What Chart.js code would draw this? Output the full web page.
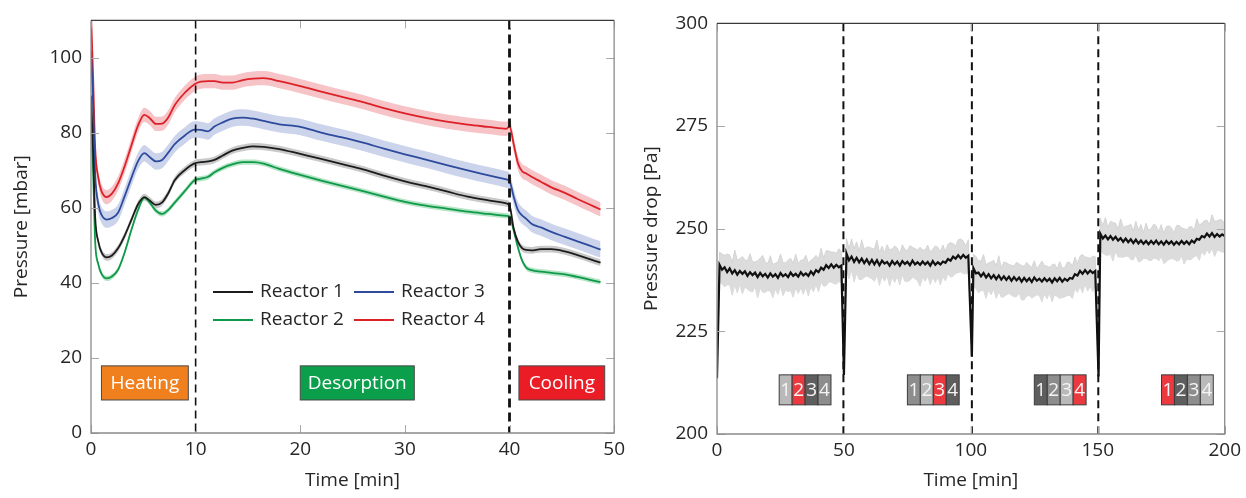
<!DOCTYPE html>
<html><head><meta charset="utf-8">
<script src="https://cdn.jsdelivr.net/npm/chart.js@4.4.1/dist/chart.umd.min.js"></script>
<style>
html,body{margin:0;padding:0;background:#fff;width:1246px;height:498px;overflow:hidden}
#c1{position:absolute;left:0;top:0}
#c2{position:absolute;left:630px;top:0}
</style></head><body>
<canvas id="c1" width="630" height="498"></canvas>
<canvas id="c2" width="616" height="498"></canvas>
<script>
// ---------------- LEFT CHART DATA ----------------
const timeL = [0,0.2,0.4,0.7,1.0,1.5,2.0,2.6,3.2,3.9,4.5,5.1,5.6,6.2,6.8,7.4,8.0,9.0,9.9,10.5,11.2,11.8,12.6,13.5,14.5,15.5,16.5,18,20,22,24,26,28,30,32,34,36,38,39.7,40.0,40.4,40.8,41.2,41.6,42.1,43,44,45.3,46.5,47.6,48.7];
const reactor1 = [90,75,57.5,51,48.2,46.8,47.3,49.3,52.5,57.1,61,62.9,62,60.8,61.5,64,67.4,70.2,71.9,72.2,72.4,72.8,74,75.3,76,76.4,76.3,75.7,74.4,73.1,71.7,70.3,68.6,67.1,65.8,64.4,63,62,61.2,60.7,54.5,51,49.3,48.8,48.7,49,49,48.4,47.4,46.4,45.4];
const reactor2 = [86,70,51,45,42.5,41.2,41.7,43.6,48,54.5,59.5,62.7,61.5,59.3,58.4,59.5,61.4,64.6,67.4,67.8,68.3,69.5,70.7,71.6,72.2,72.2,71.8,70.4,68.8,67.3,65.9,64.5,63,61.6,60.6,59.8,59,58.4,57.9,57.7,54,49.5,46,44.1,43.4,43,42.7,42.3,41.6,40.9,40.2];
const reactor3 = [102,88,69,61,58.2,56.9,57.3,58.8,63,68.3,72.5,74.6,73.6,72.4,72.8,74.8,77,79.4,80.9,80.8,80.4,81.7,82.8,83.8,84.1,83.8,83.2,82.3,81.6,80.1,78.8,77.4,75.8,74.3,72.9,71.4,70,68.7,67.6,67.2,63,59.5,58,57.1,55.8,54.8,53.6,52.3,51.1,50,48.9];
const reactor4 = [112,95,76,68,64.5,62.9,63.8,66.6,71,77,82,84.8,84,82.4,82.5,84.2,87.4,90.8,93,93.7,93.8,93.8,93.4,93.4,94.1,94.5,94.6,93.8,92.5,91,89.6,88.2,86.6,85.2,84,83,82.2,81.6,81.1,81.8,77,72,69.8,69.2,68.3,67,65.5,64,62.4,61,59.6];
const reactorNames = ['Reactor 1','Reactor 2','Reactor 3','Reactor 4'];
const reactorSpread = [0.9,0.7,2.2,1.9];   // half width of shaded band [mbar]
const phaseNames = ['Heating','Desorption','Cooling'];
const phaseStart = [1.0,20.0,40.9];
const phaseEnd = [9.3,30.9,49.1];
const phaseLow = 8.8, phaseHigh = 17.9;
const phaseLines = [10,40];
const leftXTicks = [0,10,20,30,40,50];
const leftYTicks = [0,20,40,60,80,100];

// ---------------- RIGHT CHART DATA ----------------
const timeR = [
0,1,2,3,4,5,6,7,8,9,
10,11,12,13,14,15,16,17,18,19,
20,21,22,23,24,25,26,27,28,29,
30,31,32,33,34,35,36,37,38,39,
40,41,42,43,44,45,46,47,48,49,
50,51,52,53,54,55,56,57,58,59,
60,61,62,63,64,65,66,67,68,69,
70,71,72,73,74,75,76,77,78,79,
80,81,82,83,84,85,86,87,88,89,
90,91,92,93,94,95,96,97,98,99,
100.4,101,102,103,104,105,106,107,108,109,
110,111,112,113,114,115,116,117,118,119,
120,121,122,123,124,125,126,127,128,129,
130,131,132,133,134,135,136,137,138,139,
140,141,142,143,144,145,146,147,148,149,
150.3,151,152,153,154,155,156,157,158,159,
160,161,162,163,164,165,166,167,168,169,
170,171,172,173,174,175,176,177,178,179,
180,181,182,183,184,185,186,187,188,189,
190,191,192,193,194,195,196,197,198,199,
200];
const dropMean = [
213.6,241.2,240.0,240.6,239.4,240.3,239.1,239.9,238.8,239.7,
239.0,239.6,238.5,239.4,238.7,239.3,238.2,239.2,238.4,239.0,
238.1,239.1,238.3,238.9,238.0,239.2,238.4,238.9,238.2,239.3,
238.5,239.0,238.3,239.4,238.6,239.1,238.5,239.6,238.8,239.9,
239.4,240.5,240.0,241.1,240.4,241.3,240.5,241.2,240.6,241.0,
214.4,244.0,242.3,243.2,241.9,242.9,241.8,242.7,241.6,242.5,
241.4,242.4,241.3,242.3,241.1,242.2,241.5,241.9,241.0,242.1,
241.3,242.0,241.0,242.1,241.4,241.9,241.1,242.2,241.3,241.8,
241.2,242.0,241.3,241.9,241.0,242.1,241.2,241.8,241.3,242.0,
241.7,242.6,242.2,243.2,242.7,243.5,242.8,243.6,242.9,243.4,
218.8,240.4,239.1,239.3,238.4,239.2,238.1,238.9,237.9,238.7,
237.7,238.6,237.6,238.4,237.5,238.3,237.3,238.2,237.4,238.1,
237.1,238.0,237.2,237.9,237.0,238.1,237.3,237.8,237.1,237.9,
237.2,237.8,236.9,237.9,237.2,238.0,237.1,237.8,237.3,238.0,
237.8,238.9,238.6,239.7,239.0,239.9,239.1,239.8,239.2,239.7,
214.0,248.8,247.6,248.3,247.4,248.2,247.3,248.0,247.1,247.7,
246.8,247.6,246.7,247.4,246.5,247.3,246.4,247.1,246.3,247.0,
246.2,247.0,246.3,247.1,246.2,246.9,246.1,247.0,246.3,246.9,
246.1,246.8,246.2,247.0,246.3,246.9,246.2,247.1,246.6,247.5,
247.3,248.2,247.9,248.8,248.1,248.9,248.0,248.7,248.1,248.6,
248.2];
const dropSpreadUp = [
0,3.1,3.8,2.9,4.4,3.3,2.7,4.9,3.5,3.0,
4.2,2.8,3.7,4.5,3.2,2.6,4.0,3.6,5.1,2.9,
3.4,4.3,3.0,2.7,3.9,4.6,3.3,2.8,4.1,3.5,
3.0,4.8,3.2,2.9,3.8,4.4,3.1,2.7,4.0,3.6,
3.3,4.7,2.9,3.5,4.2,3.0,3.8,2.8,4.5,3.4,
0,3.6,2.9,4.3,3.2,3.9,2.7,4.6,3.4,3.0,
4.1,2.8,3.7,4.9,3.1,3.5,2.6,4.2,3.8,3.0,
4.5,3.3,2.9,4.0,3.6,2.7,4.8,3.2,3.9,3.0,
4.3,2.8,3.5,4.1,3.3,2.9,4.6,3.7,3.1,4.0,
2.8,3.6,4.4,3.2,3.0,3.8,4.7,3.4,2.9,3.9,
0,3.4,4.1,2.9,3.7,4.5,3.1,2.8,4.0,3.6,
3.2,4.8,2.9,3.5,4.2,3.0,3.8,2.7,4.4,3.3,
3.9,2.8,4.6,3.2,3.6,4.1,2.9,3.4,5.0,3.1,
3.7,2.8,4.3,3.5,3.0,4.0,3.3,2.7,4.5,3.8,
3.1,4.2,2.9,3.6,4.7,3.2,3.9,3.0,4.1,3.5,
0,3.8,3.1,4.4,2.9,3.6,4.2,3.3,2.8,4.7,
3.5,3.0,4.0,3.7,2.9,4.5,3.2,3.9,2.7,4.3,
3.4,3.0,4.8,3.6,3.1,4.1,2.8,3.5,4.4,3.3,
2.9,3.9,4.6,3.2,3.7,2.8,4.2,3.4,3.0,4.9,
3.6,3.1,4.0,3.3,2.9,4.5,3.8,3.2,4.1,3.5,
3.0];
const dropSpreadDown = [
0,4.2,3.5,4.8,3.1,4.0,5.3,3.6,4.4,3.2,
4.9,3.8,3.3,4.6,4.1,3.4,5.0,3.7,3.9,4.5,
3.2,4.3,5.1,3.6,4.0,3.3,4.7,3.9,3.5,4.4,
5.2,3.4,4.1,3.8,4.6,3.3,4.9,3.7,4.2,3.5,
4.8,3.6,4.0,5.0,3.4,4.3,3.9,4.7,3.5,4.1,
0,3.9,4.5,3.4,4.8,3.7,4.2,5.1,3.5,4.0,
3.3,4.6,4.1,3.6,4.9,3.8,4.3,3.4,5.0,3.9,
4.4,3.6,4.7,3.3,4.2,4.8,3.7,4.0,3.5,4.5,
5.2,3.8,4.1,3.4,4.6,3.9,4.3,3.6,5.0,3.7,
4.4,3.5,4.0,4.8,3.6,4.2,3.3,4.5,3.9,4.1,
0,4.4,3.7,4.9,3.5,4.2,5.1,3.8,4.0,3.4,
4.7,3.9,4.3,5.0,3.6,4.1,3.5,4.8,4.0,3.7,
4.5,5.3,3.6,4.2,3.9,4.6,3.4,4.1,4.9,3.8,
4.3,3.5,4.7,4.0,3.7,5.0,3.9,4.4,3.6,4.2,
4.8,3.5,4.1,3.8,4.6,3.4,4.3,3.9,4.5,3.7,
0,4.1,3.6,4.7,3.9,4.4,5.2,3.5,4.0,4.6,
3.8,4.3,3.4,4.9,4.1,3.7,4.5,5.0,3.6,4.2,
3.9,4.8,3.5,4.4,4.0,3.7,4.6,5.1,3.8,4.2,
3.5,4.7,4.0,3.6,4.9,4.3,3.8,4.5,3.4,4.1,
5.0,3.7,4.4,3.9,4.2,3.6,4.8,4.0,3.5,4.3,
3.9];
const switchLines = [49.8,100.4,150.2];
const boxStart = [24.5,75.0,125.0,175.1];
const boxWidth = 20.4;
const boxLow = 207.1, boxHigh = 214.4;
const boxCells = [
  ['light','red','dark','mid'],
  ['mid','light','red','dark'],
  ['dark','mid','light','red'],
  ['red','dark','mid','light']
];
const rightXTicks = [0,50,100,150,200];
const rightYTicks = [200,225,250,275,300];

// ---------------- STYLE ----------------
const FONT = '"Open Sans", "DejaVu Sans", sans-serif';
const FS = 19;
const TEXT = '#262626';
const lineColors = ['#1c1c1c','#0f9a49','#2d4a9c','#dc2128'];
const bandColors = ['#c9c9c9','#b6e4c6','#ccd4ec','#f6c3c7'];
const phaseColors = ['#f07f1e','#0b9f4c','#ea1c26'];
const cellColors = {light:'#b9b9b9', mid:'#8d8d8d', dark:'#5e5e5e', red:'#ea3a40'};

Chart.defaults.font.family = FONT;
Chart.defaults.animation = false;

function drawFrame(chart, xt, yt){
  const {ctx, chartArea:a, scales:{x,y}} = chart;
  ctx.save();
  ctx.strokeStyle = '#a8a8a8'; ctx.lineWidth = 1;
  const L = 8;
  ctx.beginPath();
  xt.forEach(v=>{const p=Math.round(x.getPixelForValue(v))+0.5; ctx.moveTo(p,a.bottom); ctx.lineTo(p,a.bottom-L); ctx.moveTo(p,a.top); ctx.lineTo(p,a.top+L);});
  yt.forEach(v=>{const p=Math.round(y.getPixelForValue(v))+0.5; ctx.moveTo(a.left,p); ctx.lineTo(a.left+L,p); ctx.moveTo(a.right,p); ctx.lineTo(a.right-L,p);});
  ctx.stroke();
  ctx.lineWidth = 1.3;
  ctx.strokeStyle = '#8a8a8a';
  ctx.beginPath();
  ctx.moveTo(a.left,a.top); ctx.lineTo(a.left,a.bottom); ctx.lineTo(a.right,a.bottom); ctx.lineTo(a.right,a.top);
  ctx.stroke();
  ctx.strokeStyle = '#3a3a3a';
  ctx.beginPath(); ctx.moveTo(a.left,a.top); ctx.lineTo(a.right,a.top); ctx.stroke();
  ctx.restore();
}

function dashLine(chart, xv, w, dash){
  const {ctx, chartArea:a, scales:{x}} = chart;
  const p = x.getPixelForValue(xv);
  ctx.save();
  ctx.strokeStyle = '#111'; ctx.lineWidth = w; ctx.setLineDash(dash);
  ctx.beginPath(); ctx.moveTo(p,a.top); ctx.lineTo(p,a.bottom); ctx.stroke();
  ctx.restore();
}

// ---------------- LEFT CHART ----------------
const reactorSeries = [reactor1, reactor2, reactor3, reactor4];
const leftDatasets = [];
reactorSeries.forEach((vals,k)=>{
  leftDatasets.push({label:reactorNames[k], data: timeL.map((t,i)=>({x:t,y:vals[i]})), borderColor: lineColors[k], borderWidth:1.8, pointRadius:0, cubicInterpolationMode:'monotone', fill:false, order:0});
});
reactorSeries.forEach((vals,k)=>{
  leftDatasets.push({label:'hi'+k, data: timeL.map((t,i)=>({x:t,y:vals[i]+reactorSpread[k]})), borderWidth:0, pointRadius:0, cubicInterpolationMode:'monotone', backgroundColor: bandColors[k], fill:'+1', order:1});
  leftDatasets.push({label:'lo'+k, data: timeL.map((t,i)=>({x:t,y:vals[i]-reactorSpread[k]})), borderWidth:0, pointRadius:0, cubicInterpolationMode:'monotone', fill:false, order:1});
});

const leftDecor = {
  id:'leftDecor',
  afterDatasetsDraw(chart){
    const {ctx, scales:{x,y}} = chart;
    dashLine(chart, phaseLines[0], 1.6, [8,5]);
    dashLine(chart, phaseLines[1], 2.8, [9,5]);
    ctx.save();
    phaseNames.forEach((n,i)=>{
      const x0 = x.getPixelForValue(phaseStart[i]), x1 = x.getPixelForValue(phaseEnd[i]);
      const y0 = y.getPixelForValue(phaseHigh), y1 = y.getPixelForValue(phaseLow);
      ctx.fillStyle = phaseColors[i];
      ctx.fillRect(x0,y0,x1-x0,y1-y0);
      ctx.strokeStyle = '#4a4a4a'; ctx.lineWidth = 1;
      ctx.strokeRect(x0,y0,x1-x0,y1-y0);
      ctx.fillStyle = '#ffffff';
      ctx.font = FS+'px '+FONT;
      ctx.textAlign = 'center'; ctx.textBaseline = 'middle';
      ctx.fillText(n,(x0+x1)/2,(y0+y1)/2+1);
    });
    const legendOrder = [[0,213,292],[2,354,292],[1,213,320],[3,354,320]];
    ctx.font = FS+'px '+FONT; ctx.textAlign='left'; ctx.textBaseline='middle';
    legendOrder.forEach(([k,lx,ly])=>{
      ctx.strokeStyle = lineColors[k]; ctx.lineWidth = 1.8;
      ctx.beginPath(); ctx.moveTo(lx,ly); ctx.lineTo(lx+40,ly); ctx.stroke();
      ctx.fillStyle = TEXT;
      ctx.fillText(reactorNames[k], lx+47, ly);
    });
    ctx.restore();
    drawFrame(chart, leftXTicks, leftYTicks);
  }
};

new Chart(document.getElementById('c1'), {
  type:'line',
  data:{datasets:leftDatasets},
  plugins:[leftDecor],
  options:{
    responsive:false, devicePixelRatio:1, animation:false,
    layout:{padding:{left:0,right:15,top:9.5,bottom:0}},
    plugins:{legend:{display:false}, tooltip:{enabled:false}},
    scales:{
      x:{type:'linear', min:0, max:50,
        afterFit(s){s.height=65;},
        afterBuildTicks(s){s.ticks = leftXTicks.map(v=>({value:v}));},
        ticks:{font:{size:FS}, color:TEXT, padding:5, maxRotation:0},
        grid:{display:false, drawTicks:false}, border:{display:false},
        title:{display:true, text:'Time [min]', font:{size:FS}, color:TEXT, padding:{bottom:6}}},
      y:{type:'linear', min:0, max:110,
        afterFit(s){s.width=91;},
        afterBuildTicks(s){s.ticks = leftYTicks.map(v=>({value:v}));},
        ticks:{font:{size:FS}, color:TEXT, padding:9},
        grid:{display:false, drawTicks:false}, border:{display:false},
        title:{display:true, text:'Pressure [mbar]', font:{size:FS}, color:TEXT, padding:{top:10}}}
    }
  }
});

// ---------------- RIGHT CHART ----------------
const rightDatasets = [
  {label:'Pressure drop', data: timeR.map((t,i)=>({x:t,y:dropMean[i]})), borderColor:'#111', borderWidth:2.2, pointRadius:0, tension:0, fill:false, order:0},
  {label:'hi', data: timeR.map((t,i)=>({x:t,y:dropMean[i]+dropSpreadUp[i]})), borderColor:'#cfcfcf', borderWidth:0.8, pointRadius:0, tension:0, backgroundColor:'#dcdcdc', fill:'+1', order:1},
  {label:'lo', data: timeR.map((t,i)=>({x:t,y:dropMean[i]-dropSpreadDown[i]})), borderColor:'#cfcfcf', borderWidth:0.8, pointRadius:0, tension:0, fill:false, order:1}
];

const rightDecor = {
  id:'rightDecor',
  afterDatasetsDraw(chart){
    const {ctx, scales:{x,y}} = chart;
    switchLines.forEach(v=>dashLine(chart, v, 2, [8,5]));
    ctx.save();
    ctx.font = FS+'px '+FONT; ctx.textAlign='center'; ctx.textBaseline='middle';
    boxCells.forEach((cells,b)=>{
      const x0 = x.getPixelForValue(boxStart[b]), x1 = x.getPixelForValue(boxStart[b]+boxWidth);
      const y0 = y.getPixelForValue(boxHigh), y1 = y.getPixelForValue(boxLow);
      const cw = (x1-x0)/cells.length;
      cells.forEach((c,j)=>{
        const cx = x0 + j*cw;
        ctx.fillStyle = cellColors[c];
        ctx.fillRect(cx,y0,cw,y1-y0);
        ctx.strokeStyle = '#3c3c3c'; ctx.lineWidth = 1;
        ctx.strokeRect(cx,y0,cw,y1-y0);
        ctx.fillStyle = '#f4f4f4';
        ctx.fillText(String(j+1), cx+cw/2, (y0+y1)/2+1);
      });
    });
    ctx.restore();
    drawFrame(chart, rightXTicks, rightYTicks);
  }
};

new Chart(document.getElementById('c2'), {
  type:'line',
  data:{datasets:rightDatasets},
  plugins:[rightDecor],
  options:{
    responsive:false, devicePixelRatio:1, animation:false,
    layout:{padding:{left:0,right:21,top:23.3,bottom:0}},
    plugins:{legend:{display:false}, tooltip:{enabled:false}},
    scales:{
      x:{type:'linear', min:0, max:200,
        afterFit(s){s.height=64;},
        afterBuildTicks(s){s.ticks = rightXTicks.map(v=>({value:v}));},
        ticks:{font:{size:FS}, color:TEXT, padding:5, maxRotation:0},
        grid:{display:false, drawTicks:false}, border:{display:false},
        title:{display:true, text:'Time [min]', font:{size:FS}, color:TEXT, padding:{bottom:6}}},
      y:{type:'linear', min:200, max:300,
        afterFit(s){s.width=87;},
        afterBuildTicks(s){s.ticks = rightYTicks.map(v=>({value:v}));},
        ticks:{font:{size:FS}, color:TEXT, padding:9},
        grid:{display:false, drawTicks:false}, border:{display:false},
        title:{display:true, text:'Pressure drop [Pa]', font:{size:FS}, color:TEXT, padding:{top:10}}}
    }
  }
});
</script>
</body></html>
